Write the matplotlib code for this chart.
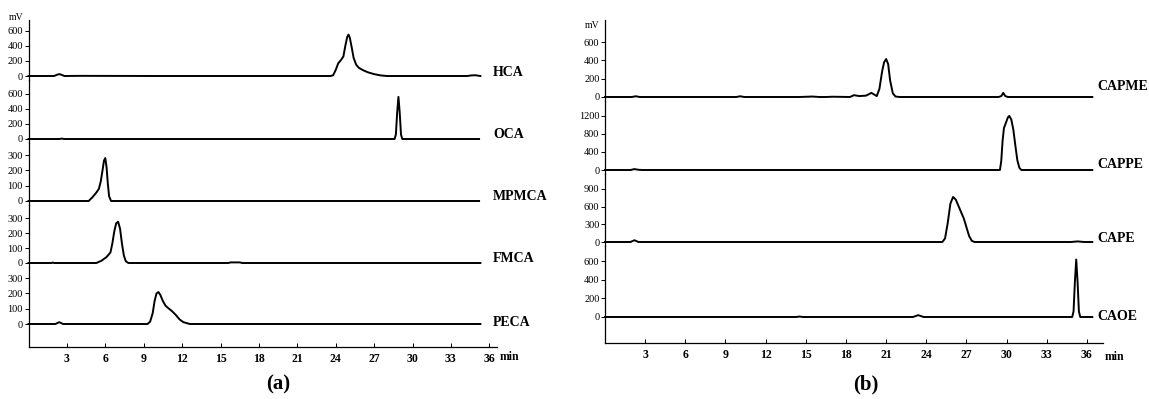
import matplotlib
matplotlib.use("Agg")
import matplotlib.pyplot as plt

plt.rcParams['font.family'] = ['Liberation Serif', 'DejaVu Serif']

# ---- data (time in min, signal in mV) ----
names_a = ['HCA', 'OCA', 'MPMCA', 'FMCA', 'PECA']
t_hca = [0, 2.0, 2.2, 2.4, 2.6, 2.8, 4, 10, 20, 23.6, 23.8, 24.0, 24.2, 24.4, 24.6, 24.75, 24.9, 25.0, 25.1, 25.25, 25.4, 25.6, 25.8, 26.1, 26.5, 27.0, 27.5, 28.0, 34.3, 34.6, 34.9, 35.1, 35.3]
y_hca = [0, 0, 15, 25, 15, 0, 2, 0, 0, 0, 10, 80, 170, 210, 260, 400, 520, 550, 510, 380, 240, 150, 110, 80, 50, 25, 8, 0, 0, 8, 10, 5, 0]
t_oca = [0, 2.4, 2.6, 2.8, 10, 20, 28.6, 28.7, 28.8, 28.9, 29.0, 29.1, 29.2, 30, 35.2]
y_oca = [0, 0, 5, 0, 0, 0, 0, 60, 350, 560, 350, 60, 0, 0, 0]
t_mpmca = [0, 4.7, 5.0, 5.3, 5.5, 5.65, 5.8, 5.9, 6.0, 6.1, 6.2, 6.3, 6.45, 35.2]
y_mpmca = [0, 0, 25, 55, 80, 130, 210, 265, 281, 220, 110, 30, 0, 0]
t_fmca = [0, 1.8, 1.9, 2.0, 5.3, 5.7, 6.1, 6.4, 6.55, 6.7, 6.85, 7.0, 7.15, 7.3, 7.45, 7.6, 7.8, 15.6, 15.8, 16.5, 16.7, 35.3]
y_fmca = [0, 0, 3, 0, 0, 15, 40, 70, 130, 210, 265, 275, 230, 130, 50, 12, 0, 0, 4, 4, 0, 0]
t_peca = [0, 2.1, 2.4, 2.7, 9.3, 9.5, 9.7, 9.85, 10.0, 10.15, 10.3, 10.5, 10.7, 10.9, 11.2, 11.5, 11.8, 12.1, 12.6, 35.3]
y_peca = [0, 0, 12, 0, 0, 15, 70, 150, 200, 209, 190, 150, 120, 105, 85, 60, 30, 12, 0, 0]
ticks_a = [[0, 200, 400, 600], [0, 200, 400, 600], [0, 100, 200, 300], [0, 100, 200, 300], [0, 100, 200, 300]]

names_b = ['CAPME', 'CAPPE', 'CAPE', 'CAOE']
t_capme = [0, 2.0, 2.3, 2.6, 9.8, 10.1, 10.4, 14.5, 15.5, 16, 16.5, 17, 18.3, 18.6, 19, 19.5, 19.9, 20.3, 20.5, 20.7, 20.85, 21.0, 21.15, 21.3, 21.5, 21.7, 22, 29.4, 29.6, 29.75, 29.9, 30.1, 36.4]
y_capme = [0, 0, 8, 0, 0, 8, 0, 0, 5, 0, 0, 3, 0, 20, 10, 15, 45, 10, 90, 280, 380, 415, 360, 180, 40, 5, 0, 0, 10, 45, 10, 0, 0]
t_cappe = [0, 1.9, 2.2, 2.5, 2.8, 29.5, 29.6, 29.7, 29.8, 29.95, 30.1, 30.2, 30.35, 30.5, 30.65, 30.8, 30.95, 31.1, 36.4]
y_cappe = [0, 0, 20, 5, 0, 0, 200, 650, 930, 1050, 1170, 1200, 1120, 900, 550, 220, 50, 0, 0]
t_cape = [0, 1.9, 2.2, 2.5, 25.2, 25.4, 25.6, 25.8, 26.0, 26.2, 26.5, 26.8, 27.0, 27.2, 27.4, 27.6, 34.8, 35.3, 35.8, 36.4]
y_cape = [0, 0, 30, 0, 0, 60, 320, 650, 763, 720, 560, 400, 250, 100, 20, 0, 0, 10, 0, 0]
t_caoe = [0, 14.3, 14.5, 14.8, 23, 23.4, 23.8, 34.9, 35.0, 35.1, 35.2, 35.3, 35.4, 35.5, 36.4]
y_caoe = [0, 0, 5, 0, 0, 20, 0, 0, 60, 380, 620, 380, 60, 0, 0]
ticks_b = [[0, 200, 400, 600], [0, 400, 800, 1200], [0, 300, 600, 900], [0, 200, 400, 600]]

xticks = [3, 6, 9, 12, 15, 18, 21, 24, 27, 30, 33, 36]

W, H = 1149, 399
fig = plt.figure(figsize=(W / 100, H / 100), dpi=100)


def px_axes(left, top, width, bottom):
    return fig.add_axes([left / W, 1 - bottom / H, width / W, (bottom - top) / H])


def panel(left, width, xmax, top, bottom, bases, upp, traces, ticks, names, lab_x, lab_dy):
    prev = top
    n = len(traces)
    for i, (t, y) in enumerate(traces):
        last = i == n - 1
        b = bottom if last else bases[i] + 4
        ax = px_axes(left, prev, width, b)
        ax.set_xlim(0, xmax)
        ax.set_ylim(-(b - bases[i]) * upp[i], (bases[i] - prev) * upp[i])
        ax.plot(t, y, color='black', lw=1.4, clip_on=False, solid_joinstyle='round')
        ax.patch.set_alpha(0)
        for s in ['top', 'right']:
            ax.spines[s].set_visible(False)
        ax.spines['left'].set_linewidth(0.9)
        ax.set_yticks(ticks[i])
        ax.tick_params(axis='y', direction='out', length=3, width=0.7, labelsize=7.5, pad=1)
        if last:
            ax.spines['bottom'].set_linewidth(0.9)
            ax.set_xticks(xticks)
            ax.set_xticklabels([str(v) for v in xticks], fontweight='bold')
            ax.tick_params(axis='x', direction='in', length=3, width=0.7, labelsize=8.5, pad=4)
        else:
            ax.spines['bottom'].set_visible(False)
            ax.set_xticks([])
        fig.text(lab_x / W, 1 - (bases[i] - lab_dy[i]) / H, names[i], fontsize=10,
                 fontweight='bold', ha='left', va='center')
        prev = b


panel(28.5, 468.5, 36.6, 20, 347, [76, 139, 201, 263, 324], [13.3, 13.3, 6.54, 6.67, 6.54],
      [(t_hca, y_hca), (t_oca, y_oca), (t_mpmca, y_mpmca), (t_fmca, y_fmca), (t_peca, y_peca)],
      ticks_a, names_a, 493, [3, 4, 4, 5, 2])
panel(605, 498, 37.2, 20, 343, [97, 170, 242, 317], [10.93, 22.2, 16.95, 10.8],
      [(t_capme, y_capme), (t_cappe, y_cappe), (t_cape, y_cape), (t_caoe, y_caoe)],
      ticks_b, names_b, 1097, [10, 6, 4, 0])

fig.text(16 / W, 1 - 17 / H, 'mV', fontsize=7, ha='center', va='center')
fig.text(592 / W, 1 - 25 / H, 'mV', fontsize=7, ha='center', va='center')
fig.text(500 / W, 1 - 357 / H, 'min', fontsize=8.5, fontweight='bold', ha='left', va='center')
fig.text(1105 / W, 1 - 357 / H, 'min', fontsize=8.5, fontweight='bold', ha='left', va='center')
fig.text(278 / W, 1 - 384 / H, '(a)', fontsize=15, fontweight='bold', ha='center', va='center')
fig.text(866 / W, 1 - 384 / H, '(b)', fontsize=15, fontweight='bold', ha='center', va='center')

fig.savefig('out.png', dpi=100)
